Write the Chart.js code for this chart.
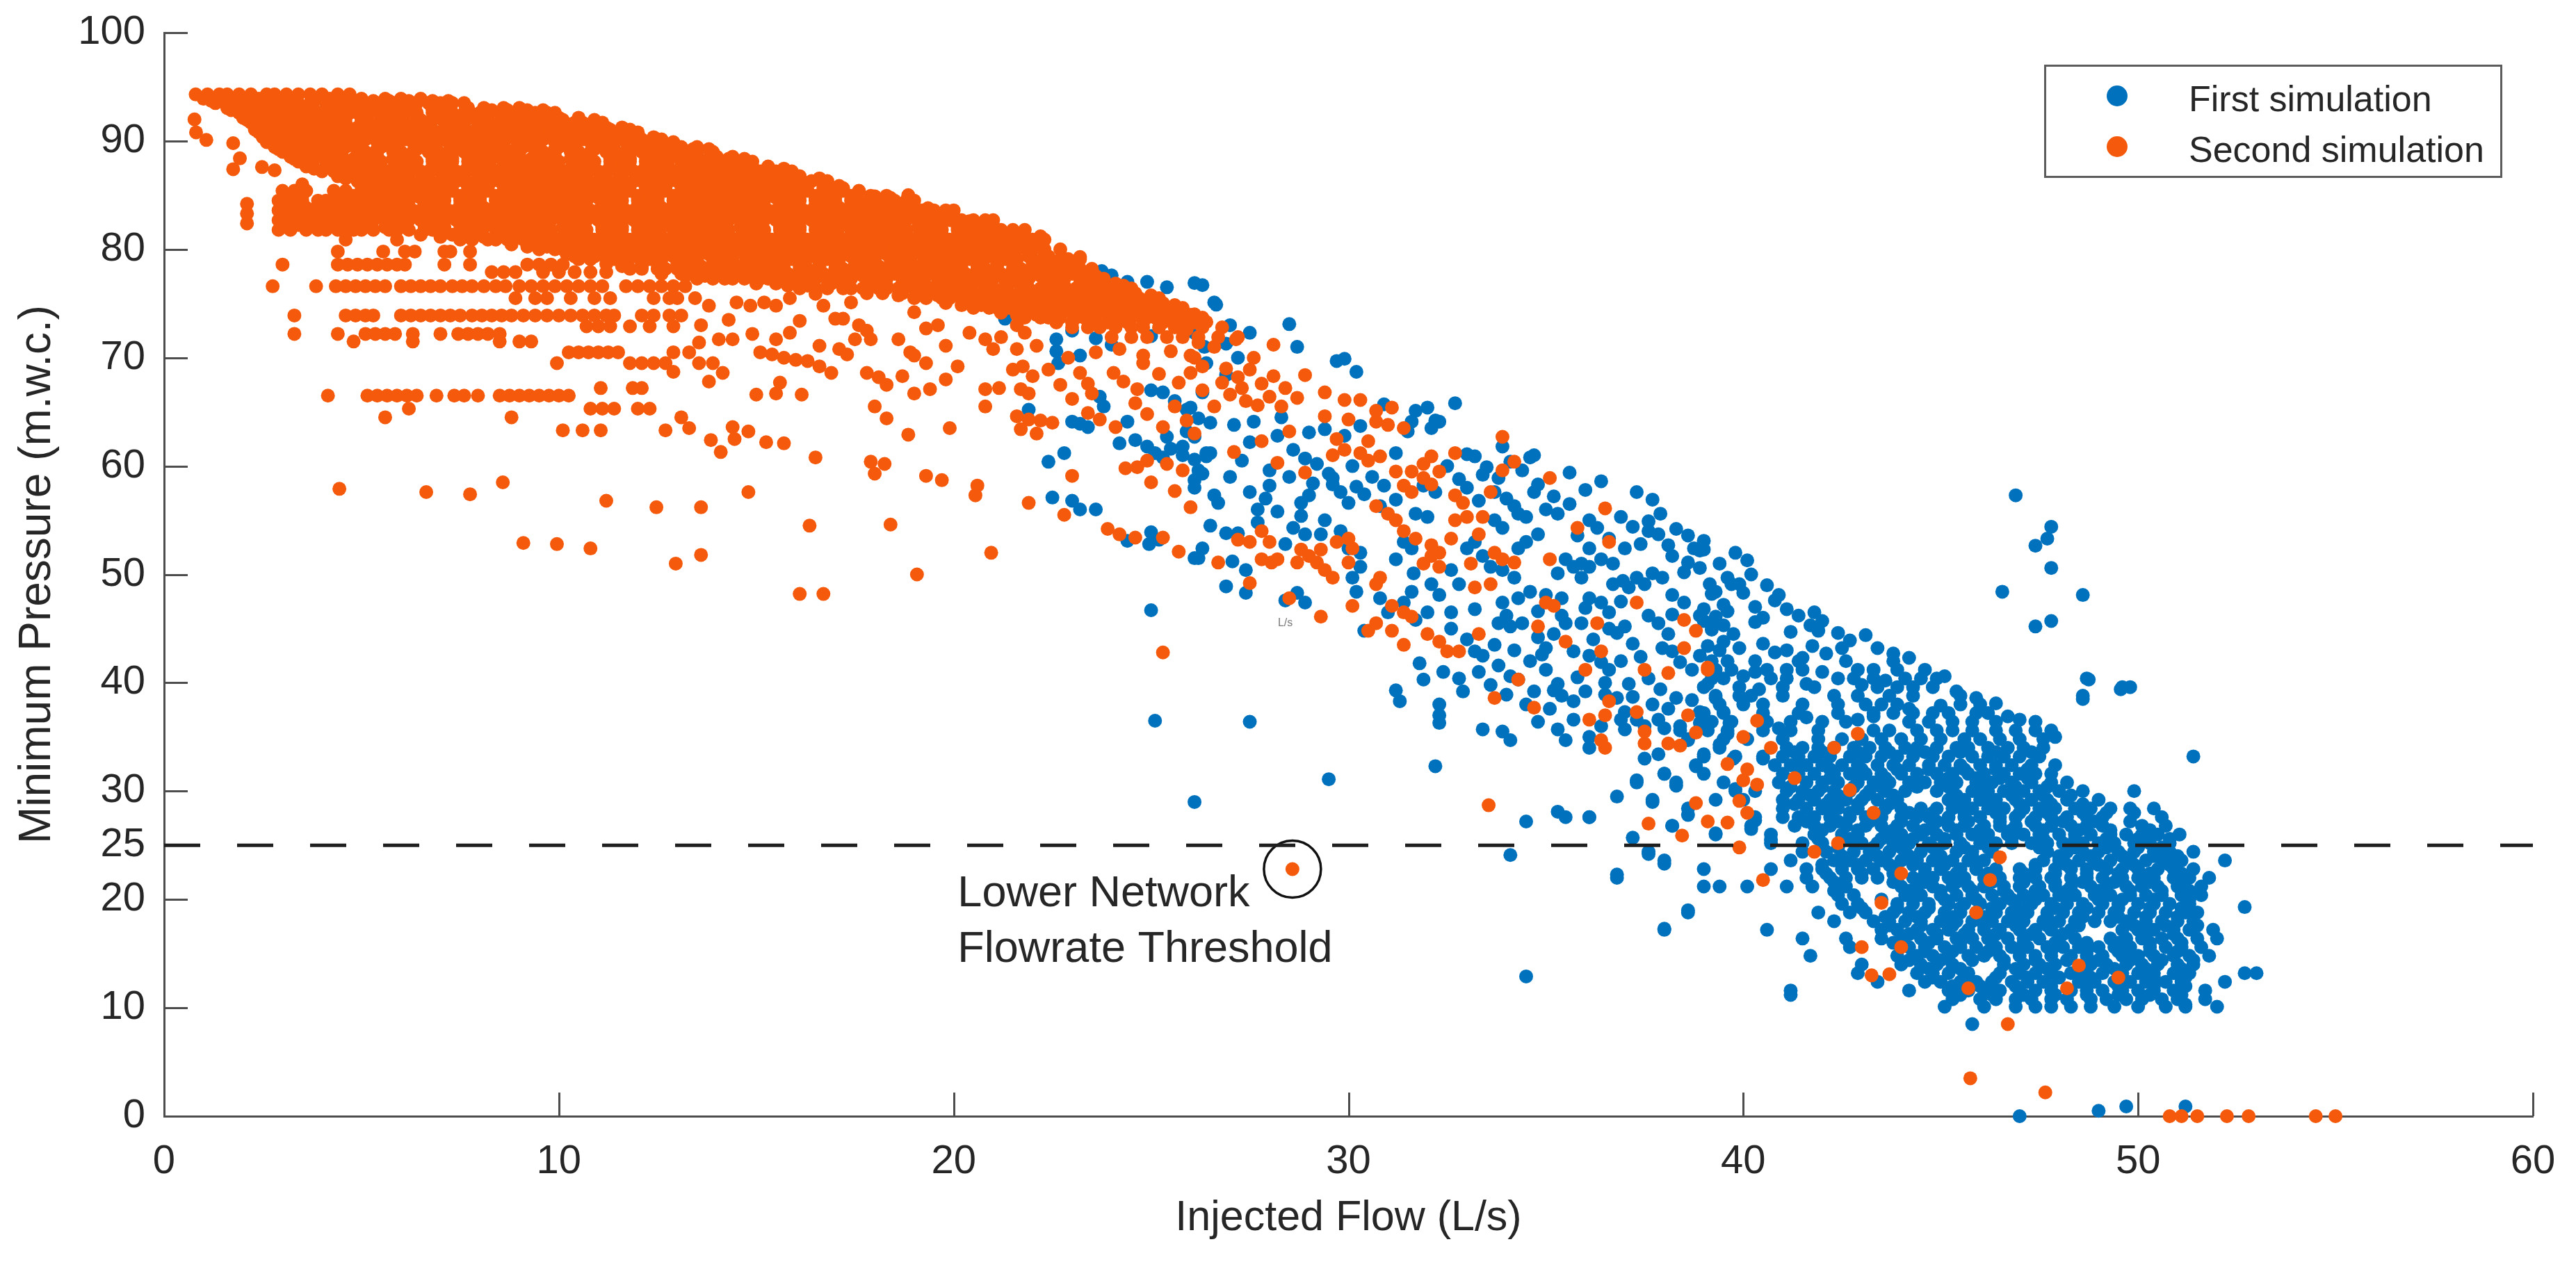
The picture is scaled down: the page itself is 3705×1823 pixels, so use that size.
<!DOCTYPE html>
<html>
<head>
<meta charset="utf-8">
<title>Minimum pressure vs injected flow</title>
<script src="https://cdn.jsdelivr.net/npm/chart.js@4.4.1/dist/chart.umd.min.js"></script>
<style>
  html, body { margin: 0; padding: 0; background: #ffffff; }
  #chartBox { width: 3705px; height: 1823px; }
</style>
</head>
<body>
<div id="chartBox"><canvas id="pressureChart" width="3705" height="1823"></canvas></div>
<script>
// Axis ticks
const xTicks = [0, 10, 20, 30, 40, 50, 60];
const yTicks = [0, 10, 20, 25, 30, 40, 50, 60, 70, 80, 90, 100];

const seriesLabels = ['First simulation', 'Second simulation'];
const thresholdPressure = 25;
const markedPoint = [28.58, 22.8];
const noteLines = ['Lower Network', 'Flowrate Threshold'];

// Second simulation, dense upper band: [pressure, flow, flow, ...]
const secondBandRows = [
  [94.3, 0.8,1.1,1.4,1.6,1.9,2.2,2.6,2.8,3.1,3.4,3.7,4.0,4.4,4.7],
  [93.5, 1.3,1.6,1.9,2.3,2.5,2.8,3.2,3.4,3.7,4.1,4.3,4.6,4.9,5.3,5.5,5.8,6.2,6.4,6.7,7.0,7.3,7.6],
  [92.6, 1.9,2.2,2.5,2.8,3.1,3.5,3.7,4.0,4.3,4.7,4.9,5.2,5.6,5.8,6.1,6.4,6.8,7.0,7.3,7.6,8.0,8.2,8.5,8.9,9.1,9.4,9.7,9.9],
  [91.7, 2.2,2.5,2.9,3.1,3.4,3.8,4.0,4.3,4.6,5.0,5.2,5.5,5.9,6.1,6.4,6.7,7.1,7.3,7.6,8.0,8.2,8.5,8.8,9.2,9.4,9.7,10.0,10.4,10.6,10.9,11.1],
  [90.8, 2.4,2.8,3.0,3.3,3.7,3.9,4.2,4.6,4.8,5.1,5.5,5.7,6.0,6.4,6.6,6.9,7.3,7.5,7.8,8.2,8.4,8.7,9.1,9.3,9.6,10.0,10.2,10.5,10.9,11.1,11.4,11.8,12.0],
  [89.9, 2.6,2.9,3.3,3.5,3.8,4.2,4.4,4.7,5.0,5.4,5.6,5.9,6.3,6.5,6.8,7.2,7.4,7.7,8.1,8.3,8.6,9.0,9.2,9.5,9.9,10.1,10.4,10.8,11.0,11.3,11.7,11.9,12.2,12.6,12.9],
  [89.0, 3.0,3.3,3.6,4.0,4.2,4.5,4.9,5.1,5.4,5.8,6.0,6.3,6.7,6.9,7.2,7.6,7.8,8.1,8.5,8.7,9.0,9.4,9.6,9.9,10.3,10.5,10.8,11.2,11.4,11.7,12.1,12.3,12.6,13.0,13.2,13.5,13.9],
  [88.1, 3.4,3.7,4.1,4.3,4.6,5.0,5.2,5.5,5.9,6.1,6.4,6.8,7.0,7.3,7.7,7.9,8.2,8.6,8.8,9.1,9.5,9.7,10.0,10.4,10.6,10.9,11.3,11.5,11.8,12.2,12.4,12.7,13.1,13.3,13.6,14.0,14.2,14.6,14.9],
  [87.2, 4.0,4.3,4.7,4.9,5.2,5.6,5.8,6.1,6.5,6.7,7.0,7.4,7.6,7.9,8.3,8.5,8.8,9.2,9.4,9.7,10.1,10.3,10.6,11.0,11.2,11.5,11.9,12.1,12.4,12.8,13.0,13.3,13.7,13.9,14.2,14.6,14.8,15.1,15.5,15.9],
  [86.3, 4.9,5.2,5.6,5.8,6.1,6.5,6.7,7.0,7.4,7.6,7.9,8.3,8.5,8.8,9.2,9.4,9.7,10.1,10.3,10.6,11.0,11.2,11.5,11.9,12.1,12.4,12.8,13.0,13.3,13.7,13.9,14.2,14.6,14.8,15.1,15.5,15.7,16.0,16.4,16.8],
  [85.4, 3.0,3.3,3.6,4.3,4.6,5.0,5.2,5.5,5.9,6.1,6.4,6.8,7.0,7.3,7.7,7.9,8.2,8.6,8.8,9.1,9.5,9.7,10.0,10.4,10.6,10.9,11.3,11.5,11.8,12.2,12.4,12.7,13.1,13.3,13.6,14.0,14.2,14.5,14.9,15.1,15.4,15.8,16.0,16.3,16.7,16.9,17.2,17.6],
  [84.5, 2.9,3.2,3.5,3.9,4.1,4.4,4.8,5.0,5.3,5.7,5.9,6.2,6.6,6.8,7.1,7.5,7.7,8.0,8.4,8.6,8.9,9.3,9.5,9.8,10.2,10.4,10.7,11.1,11.3,11.6,12.0,12.2,12.5,12.9,13.1,13.4,13.8,14.0,14.3,14.7,14.9,15.2,15.6,15.8,16.1,16.5,16.7,17.0,17.4,17.6,17.9,18.2,18.5,18.8,19.0],
  [83.6, 2.9,3.2,3.6,3.8,4.1,4.5,4.7,5.0,5.4,5.6,5.9,6.3,6.5,6.8,7.2,7.4,7.7,8.1,8.3,8.6,9.0,9.2,9.5,9.9,10.1,10.4,10.8,11.0,11.3,11.7,11.9,12.2,12.6,12.8,13.1,13.5,13.7,14.0,14.4,14.6,14.9,15.3,15.5,15.8,16.2,16.4,16.7,17.1,17.3,17.6,18.0,18.2,18.5,18.9,19.2,19.5,19.8,20.0],
  [82.7, 2.9,3.3,3.5,3.8,4.2,4.4,4.7,5.1,5.3,5.6,6.0,6.2,6.5,6.9,7.1,7.4,7.8,8.0,8.3,8.7,8.9,9.2,9.6,9.8,10.1,10.5,10.7,11.0,11.4,11.6,11.9,12.3,12.5,12.8,13.2,13.4,13.7,14.1,14.3,14.6,15.0,15.2,15.5,15.9,16.1,16.4,16.8,17.0,17.3,17.7,17.9,18.2,18.6,18.8,19.1,19.5,19.9,20.2,20.5,20.8,21.0],
  [81.8, 2.9,3.2,3.6,3.9,4.1,4.4,4.8,5.0,5.3,5.7,5.9,6.2,6.6,6.8,7.1,7.5,7.7,8.0,8.4,8.6,8.9,9.3,9.5,9.8,10.2,10.4,10.7,11.1,11.3,11.6,12.0,12.2,12.5,12.9,13.1,13.4,13.8,14.0,14.3,14.7,14.9,15.2,15.6,15.8,16.1,16.5,16.7,17.0,17.4,17.6,17.9,18.3,18.5,18.8,19.2,19.4,19.7,20.1,20.3,20.6,20.9,21.2,21.5,21.8],
  [80.9, 4.6,5.9,7.5,7.8,8.2,8.4,8.7,9.1,9.3,9.6,10.0,10.2,10.5,10.9,11.1,11.4,11.8,12.0,12.3,12.7,12.9,13.2,13.6,13.8,14.1,14.5,14.7,15.0,15.4,15.6,15.9,16.3,16.5,16.8,17.2,17.4,17.7,18.1,18.3,18.6,19.0,19.2,19.5,19.9,20.1,20.4,20.8,21.1,21.4,21.7,22.0,22.3],
  [80.0, 9.5,9.9,10.1,10.4,10.8,11.0,11.3,11.7,11.9,12.2,12.6,12.8,13.1,13.5,13.7,14.0,14.4,14.6,14.9,15.3,15.5,15.8,16.2,16.4,16.7,17.1,17.3,17.6,18.0,18.2,18.5,18.9,19.1,19.4,19.8,20.0,20.3,20.7,20.9,21.2,21.6,22.0,22.3,22.7],
  [79.1, 10.5,10.8,11.2,11.4,11.7,12.1,12.3,12.6,13.0,13.2,13.5,13.9,14.1,14.4,14.8,15.0,15.3,15.7,15.9,16.2,16.6,16.8,17.1,17.5,17.7,18.0,18.4,18.6,18.9,19.3,19.5,19.8,20.2,20.4,20.7,21.1,21.3,21.6,22.0,22.3,22.7,22.9,23.2],
  [78.2, 11.8,12.1,12.5,12.7,13.0,13.4,13.6,13.9,14.3,14.5,14.8,15.2,15.4,15.7,16.1,16.3,16.6,17.0,17.2,17.5,17.9,18.1,18.4,18.8,19.0,19.3,19.7,19.9,20.2,20.6,20.8,21.1,21.5,21.7,22.0,22.4,22.6,22.9,23.2,23.5],
  [77.3, 13.5,13.9,14.2,14.4,14.7,15.1,15.3,15.6,16.0,16.2,16.5,16.9,17.1,17.4,17.8,18.0,18.3,18.7,18.9,19.2,19.6,19.8,20.1,20.5,20.7,21.0,21.4,21.6,21.9,22.3,22.5,22.8,23.2,23.4,23.8],
  [76.4, 16.5,16.8,17.2,17.4,17.7,18.1,18.3,18.6,19.0,19.2,19.5,19.9,20.1,20.4,20.8,21.0,21.3,21.7,21.9,22.2,22.6,22.8,23.1,23.5,23.7,24.0,24.3,24.5],
  [75.5, 19.0,19.3,19.7,19.9,20.2,20.6,20.8,21.1,21.5,21.7,22.0,22.4,22.6,22.9,23.3,23.5,23.8,24.2,24.4,24.7,25.0,25.2],
  [74.6, 20.5,20.9,21.1,21.4,21.8,22.0,22.3,22.7,22.9,23.2,23.6,23.8,24.1,24.5,24.7,25.0,25.4,25.8],
  [73.7, 21.8,22.2,22.4,22.7,23.1,23.3,23.6,24.0,24.2,24.5,24.9,25.1,25.4,25.8,26.0,26.3],
  [72.8, 23.0,23.4,23.7,24.1,24.5,24.8,25.2,25.6,25.9,26.3,26.8],
  [71.9, 24.0,24.5,24.9,25.4,25.8,26.2,26.7,27.2]
];

// Second simulation, further rows of the band lying between the ones above
const secondBandInner = [
  [93.9, 1.0,1.5,2.0,2.4,2.9,3.3,3.8,4.2,4.6,5.0,5.6,6.0,6.5],
  [93.05, 1.6,2.0,2.4,2.9,3.3,3.6,4.1,4.5,5.0,5.4,5.9,6.3,6.8,7.2,7.7,8.1,8.6,9.0],
  [92.15, 2.0,2.4,2.9,3.3,3.8,4.2,4.6,5.1,5.5,6.0,6.4,6.9,7.3,7.8,8.2,8.7,9.1,9.6,10.0,10.5],
  [91.25, 2.3,2.7,3.2,3.6,4.1,4.5,4.9,5.4,5.8,6.3,6.7,7.2,7.6,8.1,8.5,9.0,9.4,9.9,10.3,10.8,11.2,11.6],
  [90.35, 2.5,3.0,3.4,3.9,4.3,4.8,5.2,5.7,6.1,6.6,7.0,7.5,7.9,8.4,8.8,9.3,9.7,10.2,10.6,11.1,11.5,12.0,12.4],
  [89.45, 2.8,3.2,3.7,4.1,4.6,5.0,5.5,5.9,6.4,6.8,7.3,7.7,8.2,8.6,9.1,9.5,10.0,10.4,10.9,11.3,11.8,12.2,12.7,13.1,13.5],
  [88.55, 3.2,3.6,4.1,4.5,5.0,5.4,5.9,6.3,6.8,7.2,7.7,8.1,8.6,9.0,9.5,9.9,10.4,10.8,11.3,11.7,12.2,12.6,13.1,13.5,14.0,14.4],
  [87.65, 3.6,4.1,4.5,5.0,5.4,5.9,6.3,6.8,7.2,7.7,8.1,8.6,9.0,9.5,9.9,10.4,10.8,11.3,11.7,12.2,12.6,13.1,13.5,14.0,14.4,14.9,15.3],
  [86.75, 4.4,4.9,5.3,5.8,6.2,6.7,7.1,7.6,8.0,8.5,8.9,9.4,9.8,10.3,10.7,11.2,11.6,12.1,12.5,13.0,13.4,13.9,14.3,14.8,15.2,15.7,16.1],
  [85.85, 5.0,5.4,5.9,6.3,6.8,7.2,7.7,8.1,8.6,9.0,9.5,9.9,10.4,10.8,11.3,11.7,12.2,12.6,13.1,13.5,14.0,14.4,14.9,15.3,15.8,16.2,16.7,17.1],
  [84.95, 3.1,3.5,4.4,4.8,5.3,5.7,6.2,6.6,7.1,7.5,8.0,8.4,8.9,9.3,9.8,10.2,10.7,11.1,11.6,12.0,12.5,12.9,13.4,13.8,14.3,14.7,15.2,15.6,16.1,16.5,17.0,17.4,17.9,18.3],
  [84.05, 3.0,3.4,3.9,4.3,4.8,5.2,5.7,6.1,6.6,7.0,7.5,7.9,8.4,8.8,9.3,9.7,10.2,10.6,11.1,11.5,12.0,12.4,12.9,13.3,13.8,14.2,14.7,15.1,15.6,16.0,16.5,16.9,17.4,17.8,18.3,18.7],
  [83.15, 3.1,3.5,4.0,4.4,4.9,5.3,5.8,6.2,6.7,7.1,7.6,8.0,8.5,8.9,9.4,9.8,10.3,10.7,11.2,11.6,12.1,12.5,13.0,13.4,13.9,14.3,14.8,15.2,15.7,16.1,16.6,17.0,17.5,17.9,18.4,18.8,19.3,19.7],
  [82.25, 3.0,3.4,3.9,4.3,4.8,5.2,5.7,6.1,6.6,7.0,7.5,7.9,8.4,8.8,9.3,9.7,10.2,10.6,11.1,11.5,12.0,12.4,12.9,13.3,13.8,14.2,14.7,15.1,15.6,16.0,16.5,16.9,17.4,17.8,18.3,18.7,19.2,19.6,20.1,20.5],
  [81.35, 6.5,7.3,8.0,8.5,8.9,9.4,9.8,10.3,10.7,11.2,11.6,12.1,12.5,13.0,13.4,13.9,14.3,14.8,15.2,15.7,16.1,16.6,17.0,17.5,17.9,18.4,18.8,19.3,19.7,20.2,20.6,21.1,21.5],
  [80.45, 8.8,9.3,9.7,10.2,10.6,11.1,11.5,12.0,12.4,12.9,13.3,13.8,14.2,14.7,15.1,15.6,16.0,16.5,16.9,17.4,17.8,18.3,18.7,19.2,19.6,20.1,20.5,21.0,21.4,21.9],
  [79.55, 10.2,10.6,11.1,11.5,12.0,12.4,12.9,13.3,13.8,14.2,14.7,15.1,15.6,16.0,16.5,16.9,17.4,17.8,18.3,18.7,19.2,19.6,20.1,20.5,21.0,21.4,21.9,22.3],
  [78.65, 11.2,11.6,12.1,12.5,13.0,13.4,13.9,14.3,14.8,15.2,15.7,16.1,16.6,17.0,17.5,17.9,18.4,18.8,19.3,19.7,20.2,20.6,21.1,21.5,22.0,22.4,22.9],
  [77.75, 12.6,13.1,13.5,14.0,14.4,14.9,15.3,15.8,16.2,16.7,17.1,17.6,18.0,18.5,18.9,19.4,19.8,20.3,20.7,21.2,21.6,22.1,22.5,23.0,23.4],
  [76.85, 15.0,15.5,16.0,16.4,16.9,17.3,17.8,18.2,18.7,19.1,19.6,20.0,20.5,20.9,21.4,21.8,22.3,22.7,23.2,23.6,24.1],
  [75.95, 17.8,18.2,18.7,19.1,19.6,20.0,20.5,20.9,21.4,21.8,22.3,22.7,23.2,23.6,24.1,24.6],
  [75.05, 19.8,20.3,20.7,21.2,21.6,22.1,22.5,23.0,23.4,23.9,24.3,24.8,25.3],
  [74.15, 21.2,21.6,22.1,22.5,23.0,23.4,23.9,24.3,24.8,25.2,25.7],
  [73.25, 22.6,23.0,23.5,23.9,24.4,24.8,25.3,25.7,26.1]
];

// Second simulation, third set of rows filling the band
const secondBandFill = [
  [93.7, 1.2,1.7,2.3,2.7,3.2,3.8,4.2,4.7,5.3,5.7,6.2,6.8,7.2],
  [92.85, 1.7,2.3,2.7,3.2,3.8,4.2,4.7,5.3,5.7,6.2,6.8,7.2,7.7,8.3,8.7,9.2,9.6],
  [91.95, 2.1,2.6,3.0,3.5,4.1,4.5,5.0,5.6,6.0,6.5,7.1,7.5,8.0,8.6,9.0,9.5,10.1,10.5,10.9],
  [91.05, 2.3,2.8,3.4,3.8,4.3,4.9,5.3,5.8,6.4,6.8,7.3,7.9,8.3,8.8,9.4,9.8,10.3,10.9,11.3,11.8],
  [90.15, 2.6,3.1,3.6,4.1,4.6,5.1,5.6,6.1,6.6,7.1,7.6,8.1,8.6,9.1,9.6,10.1,10.6,11.1,11.6,12.1,12.6],
  [89.25, 2.9,3.4,3.9,4.4,4.9,5.4,5.9,6.4,6.9,7.4,7.9,8.4,8.9,9.4,9.9,10.4,10.9,11.4,11.9,12.4,12.9,13.4,13.8],
  [88.35, 3.3,3.8,4.3,4.8,5.3,5.8,6.3,6.8,7.3,7.8,8.3,8.8,9.3,9.8,10.3,10.8,11.3,11.8,12.3,12.8,13.3,13.8,14.3,14.7],
  [87.45, 3.8,4.3,4.8,5.3,5.8,6.3,6.8,7.3,7.8,8.3,8.8,9.3,9.8,10.3,10.8,11.3,11.8,12.3,12.8,13.3,13.8,14.3,14.8,15.3,15.7],
  [86.55, 4.6,5.1,5.6,6.1,6.6,7.1,7.6,8.1,8.6,9.1,9.6,10.1,10.6,11.1,11.6,12.1,12.6,13.1,13.6,14.1,14.6,15.1,15.6,16.1,16.6],
  [85.65, 5.2,5.7,6.2,6.7,7.2,7.7,8.2,8.7,9.2,9.7,10.2,10.7,11.2,11.7,12.2,12.7,13.2,13.7,14.2,14.7,15.2,15.7,16.2,16.7,17.2],
  [84.75, 3.2,4.5,5.0,5.5,6.0,6.5,7.0,7.5,8.0,8.5,9.0,9.5,10.0,10.5,11.0,11.5,12.0,12.5,13.0,13.5,14.0,14.5,15.0,15.5,16.0,16.5,17.0,17.5,18.0,18.4],
  [83.85, 3.1,3.6,4.1,4.6,5.1,5.6,6.1,6.6,7.1,7.6,8.1,8.6,9.1,9.6,10.1,10.6,11.1,11.6,12.1,12.6,13.1,13.6,14.1,14.6,15.1,15.6,16.1,16.6,17.1,17.6,18.1,18.6,19.0],
  [82.95, 3.2,3.7,4.2,4.7,5.2,5.7,6.2,6.7,7.2,7.7,8.2,8.7,9.2,9.7,10.2,10.7,11.2,11.7,12.2,12.7,13.2,13.7,14.2,14.7,15.2,15.7,16.2,16.7,17.2,17.7,18.2,18.7,19.2,19.7],
  [82.05, 3.1,3.6,4.1,4.6,5.1,5.6,6.1,6.6,7.1,7.6,8.1,8.6,9.1,9.6,10.1,10.6,11.1,11.6,12.1,12.6,13.1,13.6,14.1,14.6,15.1,15.6,16.1,16.6,17.1,17.6,18.1,18.6,19.1,19.6,20.1,20.6,21.0],
  [81.15, 7.0,7.6,8.1,8.6,9.1,9.6,10.1,10.6,11.1,11.6,12.1,12.6,13.1,13.6,14.1,14.6,15.1,15.6,16.1,16.6,17.1,17.6,18.1,18.6,19.1,19.6,20.1,20.6,21.1,21.6],
  [80.25, 9.2,9.7,10.2,10.7,11.2,11.7,12.2,12.7,13.2,13.7,14.2,14.7,15.2,15.7,16.2,16.7,17.2,17.7,18.2,18.7,19.2,19.7,20.2,20.7,21.2,21.7,22.1],
  [79.35, 10.4,10.9,11.4,11.9,12.4,12.9,13.4,13.9,14.4,14.9,15.4,15.9,16.4,16.9,17.4,17.9,18.4,18.9,19.4,19.9,20.4,20.9,21.4,21.9,22.4],
  [78.45, 11.6,12.1,12.6,13.1,13.6,14.1,14.6,15.1,15.6,16.1,16.6,17.1,17.6,18.1,18.6,19.1,19.6,20.1,20.6,21.1,21.6,22.1,22.6,23.0],
  [77.55, 13.2,13.7,14.2,14.7,15.2,15.7,16.2,16.7,17.2,17.7,18.2,18.7,19.2,19.7,20.2,20.7,21.2,21.7,22.2,22.7,23.2,23.6],
  [76.65, 15.8,16.3,16.8,17.3,17.8,18.3,18.8,19.3,19.8,20.3,20.8,21.3,21.8,22.3,22.8,23.3,23.8,24.3],
  [75.75, 18.6,19.1,19.6,20.1,20.6,21.1,21.6,22.1,22.6,23.1,23.6,24.1,24.6,25.0],
  [74.85, 20.2,20.7,21.2,21.7,22.2,22.7,23.2,23.7,24.2,24.7,25.2,25.6],
  [73.95, 21.6,22.1,22.6,23.1,23.6,24.1,24.6,25.1,25.6,26.0]
];

// Second simulation, horizontal streaks below the band: [pressure, flow, ...]
const secondStreakRows = [
  [79.8, 4.4,5.55,6.1,6.35,7.1,7.25,7.75],
  [78.6, 3.0,4.4,4.65,4.9,5.15,5.4,5.65,5.9,6.1,7.1,7.75,9.2,9.5,9.8,10.1],
  [77.9, 8.3,8.6,8.9,9.6,10.0,10.4,10.8,11.2],
  [76.6, 2.75,3.85,4.35,4.6,4.85,5.1,5.35,5.6,6.0,6.25,6.5,6.75,7.0,7.3,7.55,7.8,8.1,8.4,8.65,9.0,9.3,9.6,9.9,10.2,10.5,10.8,11.1,11.7,12.0,12.3,12.6,12.9,13.2],
  [75.5, 8.9,9.4,9.7,10.3,10.9,11.3,12.4,12.8,13.0],
  [73.9, 3.3,4.6,4.85,5.1,5.3,6.0,6.25,6.5,6.75,7.0,7.25,7.5,7.8,8.05,8.3,8.55,8.8,9.1,9.4,9.7,10.0,10.3,10.6,10.9,11.2,11.4,12.1,12.4,12.8,13.1],
  [72.9, 10.7,11.0,11.3,11.8,12.3,12.9],
  [72.2, 3.3,4.4,5.1,5.35,5.6,5.85,6.3,7.0,7.45,7.7,7.95,8.2,8.5],
  [71.5, 4.8,6.3,8.5,9.0,9.3],
  [70.5, 10.25,10.5,10.75,11.0,11.25,11.5,12.9,13.3],
  [69.5, 9.95,11.8,12.1,12.4,12.7],
  [68.7, 12.9],
  [67.2, 11.06,11.87,12.1],
  [66.5, 4.15,5.15,5.4,5.65,5.9,6.15,6.4,6.9,7.35,7.6,7.95,8.5,8.75,9.0,9.25,9.5,9.75,10.0,10.25],
  [65.3, 6.2,10.8,11.1,11.4,12.0,12.3],
  [64.5, 5.6,8.8,13.1],
  [63.3, 10.1,10.6,11.06,12.7]
];

// Second simulation, scattered points: x, y pairs
const secondScatter = [
  0.77,92.0, 0.81,90.8, 1.07,90.1, 1.75,89.8, 1.92,88.4, 1.75,87.4, 2.48,87.6, 2.8,87.3, 3.5,86.0,
  2.1,84.2, 2.1,83.3, 2.1,82.4,
  18.0,84.9, 18.85,85.0, 19.35,83.8, 20.4,82.6, 20.9,82.3, 22.2,81.2, 23.2,79.3,
  4.44,57.9, 6.64,57.6, 7.75,57.4, 8.58,58.5, 11.2,56.8, 12.47,56.2, 9.1,52.9, 9.95,52.8, 10.8,52.4, 12.96,51.0,
  13.45,75.5, 13.8,74.8, 13.6,73.0, 13.55,71.4, 14.05,71.7, 13.9,69.5, 13.55,69.5, 13.8,67.8, 14.15,68.6,
  14.5,75.1, 14.85,74.8, 15.2,75.1, 15.5,74.8, 15.85,75.5, 16.1,76.4,
  14.3,73.5, 14.9,72.2, 14.4,71.7,
  15.1,70.5, 15.4,70.3, 15.7,70.0, 16.0,69.8, 16.3,69.7,
  15.5,71.7, 15.85,72.3, 16.1,73.4,
  16.6,71.1, 16.6,69.2, 16.9,68.6, 17.1,70.8, 17.3,70.3,
  16.5,75.9, 16.7,74.8, 17.0,73.6, 17.2,73.6, 17.4,75.1,
  17.6,73.0, 17.8,72.5, 17.5,71.7, 17.9,71.7,
  17.8,68.6, 18.1,68.2, 18.3,67.5,
  18.6,71.7, 18.9,70.5, 19.3,69.5, 19.0,70.2,
  18.7,68.3, 19.0,66.7, 19.4,67.1, 19.8,68.0, 20.1,69.2,
  19.0,74.2, 19.3,72.7, 19.6,73.0, 19.8,71.1,
  20.4,72.3, 20.8,71.7, 21.0,70.8, 21.2,71.9, 21.6,73.0, 21.6,70.8, 21.8,72.3, 22.1,71.1,
  21.5,68.9, 21.75,69.2, 22.0,68.3, 22.4,68.9,
  20.8,67.1, 21.15,67.2, 20.8,65.5, 21.7,67.1, 21.9,66.7,
  21.6,64.6, 21.9,64.3, 22.2,64.2, 22.5,64.0, 21.7,63.4, 22.1,63.0,
  13.3,63.5, 13.85,62.4, 14.1,61.3, 14.4,63.6, 14.45,62.5, 14.8,63.2, 15.25,62.2, 15.7,62.1,
  15.0,66.6, 15.5,66.7, 15.6,67.7, 16.15,66.6, 16.5,60.8, 18.0,65.5, 18.3,64.4, 18.85,62.9, 19.9,63.5,
  17.9,60.4, 18.25,60.2, 18.0,59.3, 19.3,59.1, 19.7,58.7, 20.6,58.2, 20.55,57.3,
  14.8,57.6, 13.6,56.2, 16.35,54.5, 18.4,54.6, 13.6,51.8, 20.95,52.0, 19.07,50.0, 16.1,48.2, 16.7,48.2,
  21.9,56.6, 22.8,55.5, 23.0,59.1, 23.9,54.2, 24.2,53.7, 24.6,53.4, 25.3,53.4, 25.7,52.1, 26.0,56.2,
  23.2,68.6, 23.4,67.6, 23.5,66.7, 23.4,64.9, 23.7,64.3, 24.1,63.6, 24.6,65.8, 24.9,64.8, 25.3,63.6,
  25.6,65.5, 25.9,64.2, 26.1,63.0, 24.05,68.6, 24.3,67.8, 24.65,67.1, 24.8,69.5, 25.2,68.5, 25.7,67.7,
  26.0,68.6, 26.3,67.0, 26.6,65.5, 24.9,60.5, 25.4,60.2, 25.8,59.6, 24.65,59.9, 25.0,58.5, 25.6,57.7, 24.35,59.8,
  22.9,70.0, 23.6,70.5, 24.2,70.8, 24.8,70.2, 25.5,70.6, 26.1,70.0, 26.6,71.0, 23.0,66.2, 22.7,67.5,
  26.1,74.0, 25.9,72.6, 26.2,71.4, 26.0,70.2, 26.3,69.2, 26.4,73.3, 27.15,71.7, 27.6,70.0, 28.1,71.2,
  26.9,69.0, 27.2,68.2, 27.5,68.9, 27.8,67.6, 28.1,68.3, 28.4,67.2, 28.7,66.3, 27.0,66.6, 27.4,66.0,
  27.7,65.6, 28.0,66.4, 28.3,65.5, 26.8,67.7, 27.3,67.2,
  27.1,61.3, 27.8,62.3, 28.2,60.3, 28.9,59.4, 29.6,61.0, 30.5,62.3, 29.4,64.6, 30.0,64.3, 28.5,63.2,
  28.9,68.4, 29.4,66.8, 29.9,66.1, 30.3,66.1, 30.7,65.1, 31.1,65.4, 30.7,64.1, 31.0,63.8, 31.4,63.5,
  29.7,62.5, 29.9,61.5, 30.3,61.2, 30.5,60.5, 30.8,60.9,
  31.2,59.5, 31.6,59.5, 31.9,60.2, 32.1,60.9, 32.3,59.5, 31.4,58.2, 31.6,57.6, 31.9,58.9, 32.1,58.3,
  32.7,61.2, 33.9,62.7, 34.2,60.4, 33.9,59.6, 35.1,58.9, 33.6,57.6, 32.7,57.3, 32.9,56.6,
  30.7,56.3, 31.0,55.6, 31.2,55.0, 31.4,54.0, 31.7,53.3, 32.1,52.7, 32.3,52.0, 32.7,55.0, 33.0,55.3,
  33.3,53.7, 33.4,55.3, 32.6,53.3,
  30.0,53.3, 30.1,52.4, 30.0,51.1, 29.2,51.1, 29.4,50.4, 29.6,49.7, 29.7,53.0,
  27.2,53.2, 27.5,53.0, 27.8,54.0, 28.0,53.0, 27.8,51.4, 28.05,51.1, 28.2,51.4, 26.7,51.1, 27.5,49.2,
  28.8,52.3, 29.0,51.7, 28.7,51.1, 29.3,52.3, 28.5,47.8, 29.3,46.1,
  30.1,47.1, 30.7,49.1, 30.8,49.7, 30.7,45.5, 30.5,44.8,
  31.1,47.1, 31.4,46.5, 31.6,46.1, 31.1,44.8, 31.4,43.5, 32.0,44.5, 32.3,43.8, 32.5,42.9, 32.8,42.9,
  31.9,51.0, 32.1,51.7, 32.3,50.7, 33.1,51.0, 33.2,48.8, 33.3,44.5,
  33.7,52.0, 33.9,51.4, 34.2,51.1, 33.6,49.1,
  35.1,51.4, 35.8,54.3, 36.5,56.1, 36.6,53.0, 35.2,47.1, 34.8,45.2, 35.5,43.8, 36.0,41.2, 36.3,45.5, 36.4,42.9,
  35.0,47.4, 37.3,47.4, 37.5,41.2, 38.5,45.8, 38.8,44.8, 38.5,43.2, 39.1,41.2, 38.1,40.9,
  36.6,38.3, 36.5,37.0, 36.1,36.6, 37.3,37.3, 38.6,37.0, 38.8,35.4, 34.7,37.7, 33.7,38.6, 34.3,40.3,
  36.4,34.7, 36.5,34.0, 37.5,34.4, 38.1,34.4, 38.4,34.2, 37.5,35.5, 38.8,28.9,
  25.3,42.8, 33.55,28.7, 28.58,22.8,
  39.1,41.4, 40.35,36.5, 40.0,35.0, 40.7,34.0, 42.3,34.0, 42.9,35.3, 39.6,32.5, 40.1,32.0, 40.0,31.0,
  40.35,30.6, 41.3,31.2, 42.7,30.1, 43.3,28.0, 39.9,29.1, 40.1,28.0, 39.1,27.2, 39.6,27.1, 37.6,27.0, 38.45,25.9,
  39.9,24.8, 41.8,24.4, 42.4,25.2, 40.5,21.8, 44.0,22.4, 46.5,23.9, 46.25,21.8, 43.5,19.7, 45.9,18.8,
  43.0,15.6, 44.0,15.6, 43.25,13.0, 43.7,13.1, 45.7,11.8, 48.5,13.9, 48.2,11.8, 49.5,12.8, 46.7,8.5,
  45.75,3.5, 47.65,2.2, 50.8,0, 51.1,0, 51.5,0, 52.25,0, 52.8,0, 54.5,0, 55.0,0
];

// First simulation, upper diagonal band: x, y pairs
const firstUpper = [
  22.6,78.7, 23.2,78.0, 23.75,78.0, 24.0,77.6, 24.4,77.0, 24.9,77.0, 25.4,76.5, 26.1,76.9, 26.3,76.7, 26.6,75.1, 26.65,74.9,
  19.6,76.3, 21.3,73.6,
  22.6,71.7, 22.6,70.6, 22.65,69.5, 23.0,72.5, 23.2,70.2, 23.6,71.8, 24.0,71.2, 25.0,72.0, 25.6,73.5, 26.1,72.3,
  26.35,71.0, 26.4,69.5, 27.0,73.0, 27.5,72.3, 28.5,73.1, 28.7,71.0, 29.7,69.7, 29.9,69.9, 30.2,68.7,
  26.9,71.3, 27.2,70.0, 26.9,68.4,
  21.9,65.2, 23.0,64.1, 23.2,63.9, 23.4,63.6, 22.4,60.4, 22.8,61.2, 22.5,57.1, 23.0,56.8, 23.2,56.0, 23.6,56.0,
  24.2,62.1, 24.4,64.1, 23.7,66.4, 23.8,65.5, 24.6,62.4, 24.9,61.8, 25.1,61.2, 25.3,60.8, 25.5,61.6, 25.8,61.0,
  26.1,60.6, 26.4,60.9, 25.4,62.7, 25.8,61.8, 26.1,62.7, 26.4,61.2, 25.3,66.8, 25.6,66.0, 25.9,65.2, 26.2,64.4,
  26.5,64.0, 25.0,67.0,
  25.0,53.9, 25.2,53.2, 24.4,53.1, 24.95,52.8, 26.1,51.5, 26.3,52.4, 26.5,54.5, 26.3,59.3, 26.1,58.0, 25.0,46.7,
  26.3,66.8, 26.0,65.4, 25.9,63.2, 26.5,61.2, 26.2,59.6, 26.1,58.7,
  27.1,63.8, 27.5,62.2, 27.6,64.1, 27.5,57.6, 27.7,56.0, 26.6,57.3, 26.7,56.6, 28.2,62.8, 28.6,61.5, 28.3,64.5,
  27.0,59.0, 27.3,60.5, 28.5,59.0, 28.9,60.7, 29.9,62.8, 30.3,63.7, 30.2,58.1, 29.1,58.4, 27.9,57.0, 28.2,55.8, 27.7,54.8, 28.4,52.8,
  26.9,53.8, 27.2,53.8, 27.06,51.2, 27.4,50.4, 26.2,51.5, 26.9,48.9, 27.4,48.3,
  28.4,47.6, 28.7,48.3, 28.9,47.4, 28.0,58.2, 28.0,59.6, 28.8,56.6, 29.0,57.3, 28.8,55.4,
  29.2,60.2, 29.5,59.3, 29.6,58.9, 29.0,63.1, 29.4,63.4, 29.6,58.3, 29.8,57.6, 30.0,56.6,
  29.4,55.0, 29.3,53.7, 29.8,54.0, 30.0,52.4, 28.6,54.3, 28.9,53.7,
  30.3,52.0, 30.3,50.7, 30.1,49.7, 30.2,48.4, 31.2,51.4, 31.6,52.4, 31.4,53.0, 31.65,50.1, 31.7,55.6, 32.0,55.3,
  30.8,56.3, 31.2,56.9, 30.6,59.0, 30.9,58.2, 30.4,57.4, 32.5,60.0, 32.8,58.8, 30.1,60.0,
  31.5,63.2, 31.6,64.1, 31.7,65.1, 32.0,65.4, 32.1,63.5, 32.3,64.1, 31.2,61.2, 31.9,58.2, 32.2,57.6, 32.7,65.8,
  30.9,65.7, 32.2,64.2,
  33.2,60.9, 33.5,59.9, 33.8,58.9, 33.4,59.2, 33.7,57.6, 34.4,59.6, 34.7,57.6, 34.8,58.3, 34.7,61.0, 35.6,59.4,
  33.9,61.8, 34.1,60.4, 33.0,61.1, 34.6,60.8,
  34.2,56.3, 34.3,55.6, 34.5,55.3, 34.8,53.7, 34.5,53.0, 34.3,52.4, 33.7,55.0, 33.9,54.3, 33.2,53.0, 33.4,51.7, 33.0,52.4,
  33.6,50.7, 33.9,50.4, 34.2,49.7, 32.6,50.4, 32.8,49.1, 32.1,49.1, 32.3,48.1, 31.6,48.4, 31.4,47.4, 30.8,47.8,
  31.0,46.5, 32.0,46.5, 31.7,45.8, 32.6,46.5, 33.2,46.8, 33.2,42.9, 33.4,42.5, 33.7,43.5,
  33.8,45.5, 34.1,45.2, 34.4,45.5, 33.9,47.4, 34.3,47.8, 34.6,48.4, 35.0,48.1, 35.4,47.8,
  35.3,50.1, 35.5,51.4, 35.7,50.7, 35.9,49.7, 36.1,50.7, 35.3,55.6, 36.1,55.0, 36.3,54.3, 36.6,53.3, 36.1,52.4,
  35.9,51.0, 36.4,51.4,
  36.7,51.0, 36.95,49.4, 37.1,48.8, 37.3,49.7, 36.7,49.1, 37.7,56.9, 37.6,54.0, 37.85,53.7, 38.1,52.7, 37.0,52.4,
  37.7,50.1, 37.95,49.7, 37.5,49.1,
  38.2,51.7, 38.6,51.1, 38.75,52.4, 38.9,52.2, 38.2,48.1, 38.5,47.4, 39.3,48.4, 39.7,49.1,
  36.1,47.8, 36.4,47.4, 36.6,46.5, 35.5,45.5, 35.9,45.5, 34.8,44.2, 35.2,44.5, 35.0,43.2,
  35.7,42.9, 36.1,42.5, 36.4,41.9, 36.6,41.2, 34.1,40.6, 34.3,40.3, 35.0,41.2, 35.3,39.9, 35.2,39.3, 35.7,38.3,
  35.7,36.6, 35.3,35.7, 35.5,34.7, 36.1,34.0, 36.8,38.6, 37.0,37.3, 37.3,36.6, 37.0,35.7, 37.7,38.0, 37.85,36.6, 37.5,36.0,
  37.85,45.5, 38.1,44.5, 37.95,43.2, 38.2,42.9, 38.4,41.9, 38.7,41.2, 38.9,42.5, 39.2,45.2, 39.5,43.8, 39.75,44.5,
  39.1,39.9, 39.3,38.6, 38.9,37.3, 39.5,37.3, 39.65,36.3, 38.4,36.0, 38.6,34.7, 39.6,35.3, 39.4,34.3, 39.75,33.0,
  37.85,33.4, 37.5,33.0, 36.1,35.0,
  33.4,35.7, 33.9,35.5, 34.1,34.7, 32.3,38.0, 32.3,37.0, 32.3,36.3, 31.2,39.3, 31.3,38.3, 30.4,44.8,
  37.3,57.6, 37.6,54.9, 38.6,53.6, 39.0,53.1, 39.6,49.7, 40.2,50.0, 40.6,49.0, 41.4,46.2, 39.0,52.3,
  39.0,46.8, 39.0,45.7, 39.2,44.9, 39.5,45.3, 39.3,46.1, 39.15,49.1, 39.2,48.2, 39.9,49.1, 40.0,48.3, 40.9,48.1,
  41.2,44.7, 41.7,45.3, 41.9,44.8, 39.1,43.4, 39.4,43.0, 39.9,43.2, 41.1,43.0, 41.75,43.4, 42.1,42.7, 43.8,42.7, 40.3,45.6,
  33.0,58.0, 33.3,56.8, 34.0,57.0, 35.2,57.2, 35.6,56.5, 36.0,57.8, 36.4,58.6, 35.0,56.0, 35.8,53.6, 36.9,55.3,
  37.2,54.4, 37.4,52.8, 37.9,55.6, 38.3,54.2, 38.5,50.2, 38.9,50.6, 39.4,51.0, 39.8,52.0, 40.1,51.3, 39.5,47.2,
  40.3,47.0, 40.8,47.6, 41.1,46.8, 40.5,46.0, 41.8,46.5, 42.0,45.7, 42.4,44.6, 42.7,43.9, 43.1,44.4, 43.4,43.2,
  42.6,42.0, 44.2,42.3, 44.6,41.2, 45.1,40.6, 45.4,39.2, 45.9,38.6, 46.4,38.1, 46.7,36.9, 47.0,36.6, 47.9,35.0,
  36.2,44.0, 36.8,44.6, 37.2,43.6, 37.4,42.4, 36.9,42.0, 37.6,40.4, 37.1,39.9, 36.5,40.0, 35.8,40.5, 36.0,39.2,
  36.5,38.9, 37.9,39.4, 38.3,38.6, 38.1,37.6, 37.2,38.7,
  34.6,42.0, 34.2,43.0, 34.9,42.6, 33.8,41.6, 33.3,41.0, 32.8,40.4, 33.6,39.8, 34.7,39.2, 34.0,38.9, 34.5,38.0,
  35.1,37.6, 35.4,38.8, 34.8,36.4, 36.4,36.0, 36.9,36.6, 38.0,35.8, 38.9,36.3, 38.7,38.4, 39.9,38.8, 40.4,39.4,
  40.0,40.6, 40.3,41.0, 40.8,42.8, 40.5,43.6, 42.5,43.2, 41.5,42.3, 42.0,41.0, 41.6,39.9, 43.0,39.8, 43.6,40.2,
  44.2,37.6, 41.6,36.8, 40.9,35.8, 42.9,36.6, 43.3,36.9, 45.0,37.9,
  31.8,41.8, 32.4,41.0, 32.9,39.2, 31.9,40.3, 33.0,44.0, 32.6,45.0, 34.0,46.2, 34.8,46.6, 35.4,46.2, 36.0,46.9,
  36.9,47.5, 37.6,46.2, 38.2,46.3, 38.9,46.2, 39.6,46.6, 37.0,45.2, 36.6,45.0
];

// First simulation, dense lower cluster: [pressure, flow, flow, ...]
const firstCoreRows = [
  [42.0, 39.2,39.6,40.3,41.4,43.8],
  [41.2, 39.3,39.7,40.6,41.1,41.5,42.9,43.3,43.9],
  [40.4, 39.2,39.5,40.7,41.1,42.4,42.8,43.3,44.1,44.5,44.9,48.7],
  [39.6, 39.0,39.9,41.0,41.8,43.4,43.9,44.3,44.8,49.6,49.8],
  [38.8, 39.3,40.2,41.0,42.3,42.9,43.7,44.3,45.5,48.6],
  [38.0, 39.4,40.0,40.5,41.5,42.4,43.1,43.5,43.9,45.5,46.0],
  [37.2, 39.0,39.5,40.5,41.4,42.4,43.3,43.8,44.3,44.8,45.2,45.9,46.2],
  [36.4, 39.2,39.7,40.6,41.2,42.0,42.6,44.2,44.7,45.3,45.8,46.4,47.4],
  [35.6, 38.4,39.1,39.6,40.5,41.2,41.9,43.3,43.7,44.4,44.9,45.3,45.8,46.4,46.9,47.4,47.8],
  [34.8, 38.6,39.5,40.1,41.0,41.9,42.5,43.0,43.5,44.0,44.5,45.0,45.6,46.0,46.5,47.0,47.6],
  [34.0, 39.4,41.1,41.5,41.9,42.3,42.8,43.2,43.6,44.1,44.4,44.9,45.4,45.7,46.2,46.7,47.1,47.6],
  [33.2, 39.0,39.8,40.5,41.0,41.4,41.8,42.2,42.7,43.1,43.5,43.9,44.3,44.8,45.2,45.8,46.2,46.6,47.0,47.5],
  [32.4, 38.8,40.8,41.2,41.6,42.0,42.5,42.9,43.4,43.8,44.2,44.7,45.1,45.5,46.0,46.4,46.8,47.3,47.9],
  [31.6, 38.0,39.0,41.0,41.4,41.8,42.3,42.7,43.1,43.5,44.0,44.4,44.9,45.3,45.7,46.1,46.6,47.0,47.4,47.8],
  [30.8, 37.3,38.3,39.5,40.9,41.6,42.0,42.4,42.9,43.3,43.7,44.2,44.6,45.0,45.4,45.9,46.3,46.8,47.3,47.8,48.2],
  [30.0, 39.8,40.3,41.1,41.5,41.9,42.3,42.7,43.2,43.6,44.1,44.9,45.3,45.8,46.2,46.6,47.1,47.5,48.0,48.6,49.9],
  [29.2, 37.7,39.3,40.0,41.0,41.4,41.8,42.2,42.6,43.0,43.4,43.9,45.2,45.6,46.0,46.4,46.9,47.3,47.7,48.2,49.0],
  [28.4, 38.6,41.0,41.6,42.0,42.4,42.9,43.6,44.0,44.5,44.9,45.3,45.8,46.2,46.6,47.1,47.5,47.9,48.4,48.8,49.3,49.8,50.4],
  [27.6, 36.1,40.3,41.0,41.4,41.8,42.2,42.7,43.1,43.5,44.0,44.4,44.7,45.2,45.6,46.0,46.5,46.9,47.4,47.8,48.2,48.7,49.1,50.6],
  [26.8, 38.2,40.2,41.3,41.8,42.2,42.6,43.1,43.5,43.9,44.3,44.8,45.2,45.6,46.1,46.5,46.9,47.4,47.8,48.3,48.7,49.1,50.1,50.7],
  [26.0, 39.3,40.7,41.8,42.5,42.9,43.6,44.0,44.5,44.9,45.4,45.8,46.2,46.7,47.1,47.5,48.0,48.4,48.8,49.3,49.7,50.1,50.5,51.05],
  [25.2, 40.7,41.5,42.0,43.0,43.4,43.8,44.2,44.7,45.1,45.5,46.0,46.4,46.8,47.3,47.7,48.1,48.6,49.0,49.4,49.9,50.3,50.8],
  [24.4, 37.6,41.5,42.1,42.8,43.2,43.7,44.1,44.5,44.9,45.4,45.8,46.3,47.7,48.2,48.6,49.0,49.5,49.9,50.4,50.8,51.4],
  [23.6, 38.0,41.2,42.3,42.7,43.1,43.5,44.0,44.4,44.8,45.3,45.7,46.1,47.6,48.0,48.5,48.9,49.3,49.8,50.2,50.6,51.1,52.2],
  [22.8, 39.0,40.7,41.6,42.0,42.5,42.9,43.3,43.8,44.6,45.0,45.5,45.9,46.4,47.0,47.4,47.9,48.3,48.7,49.2,49.6,50.0,50.5,50.9,51.4],
  [22.0, 36.8,41.6,42.2,42.6,43.0,43.4,43.9,44.3,44.8,45.2,45.6,46.1,46.5,47.0,47.4,47.8,48.3,48.7,49.1,49.6,50.0,50.4,50.9,51.3,51.8],
  [21.2, 39.0,39.4,40.1,41.1,41.75,42.6,44.0,44.4,44.8,45.3,45.7,46.1,46.6,47.0,47.5,47.9,48.3,48.8,49.2,49.7,50.1,50.5,51.0,51.6],
  [20.4, 42.4,42.8,44.1,44.5,45.0,45.4,45.8,46.3,46.7,47.1,47.6,48.0,48.4,48.9,49.3,49.8,50.2,50.6,51.1,51.6],
  [19.6, 42.5,42.9,43.9,44.3,44.7,45.2,45.6,46.0,46.5,46.9,47.3,47.8,48.2,48.6,49.1,49.5,50.0,50.4,50.8,51.3],
  [18.8, 38.6,41.9,42.7,43.1,43.8,44.2,44.6,45.1,45.5,45.9,46.4,46.8,47.2,47.7,48.1,48.5,49.0,49.4,49.9,50.3,50.7,51.2,51.5],
  [18.0, 42.3,43.3,43.7,44.1,44.5,45.0,45.4,45.8,46.3,46.7,47.1,47.6,48.0,48.4,48.9,49.3,49.7,50.2,50.6,51.0,51.4],
  [17.2, 38.0,40.6,43.5,43.9,44.4,44.8,45.2,45.7,46.1,46.5,47.0,47.4,47.8,48.3,49.6,50.0,50.4,50.9,51.3,51.9],
  [16.4, 41.5,42.6,43.5,44.0,44.5,44.9,45.4,45.8,46.2,46.7,47.1,47.5,48.0,48.4,49.3,49.7,50.1,50.6,51.0,51.5,52.0],
  [15.6, 42.7,44.2,44.6,45.1,45.5,45.9,46.4,46.8,47.2,47.7,48.1,48.5,49.0,49.4,49.8,50.3,50.7,51.1,51.6],
  [14.8, 41.7,43.9,44.4,44.8,45.2,45.7,46.1,46.5,47.0,47.4,47.8,48.3,48.7,49.1,49.6,50.0,50.4,50.9,51.3,51.8],
  [14.0, 43.0,44.0,44.5,44.9,45.3,46.6,47.1,47.5,47.9,48.8,49.2,49.7,50.1,50.5,51.0,51.4],
  [13.2, 42.9,44.4,44.8,45.2,45.7,46.5,47.0,47.4,47.8,48.3,48.7,49.1,49.6,50.0,50.4,50.9,51.3,52.7,53.0],
  [12.4, 43.4,44.6,45.0,45.5,45.9,46.3,46.8,47.2,47.6,48.5,48.9,49.4,49.8,50.2,50.7,51.1,52.2],
  [11.6, 41.2,44.2,45.2,45.7,46.1,46.5,47.0,47.4,47.8,48.3,48.7,49.1,49.6,50.0,50.4,50.9,51.7],
  [10.8, 45.3,46.0,46.4,46.9,47.3,47.8,48.2,48.8,49.2,49.7,50.1,50.6,51.0,51.7],
  [10.1, 45.1,46.1,46.9,47.4,47.8,48.3,48.8,49.4,50.0,50.7,51.2,52.0]
];

// First simulation, extra points packed between the rows of the dense cluster
const firstCoreInner = [
  [33.6, 41.3,42.0,42.9,43.7,44.6,45.5,46.4,47.3],
  [32.0, 41.4,42.2,43.0,43.9,44.7,45.6,46.4,47.2],
  [31.2, 42.2,42.9,43.6,44.4,45.2,45.9,46.5,47.2],
  [30.4, 41.2,42.0,42.8,43.5,44.4,45.2,46.1,46.9,47.7],
  [29.6, 41.7,42.4,43.1,43.8,45.4,46.1,46.8,47.6,48.3],
  [28.8, 41.3,42.1,42.9,43.7,45.4,46.2,47.0,47.8,48.6],
  [28.0, 42.2,42.7,43.3,44.2,44.8,45.6,46.4,47.0,47.7,48.6,49.2,49.9],
  [27.2, 41.6,42.4,43.2,44.0,44.9,45.7,46.5,47.3,48.1,48.9,49.8],
  [26.4, 42.0,42.9,43.8,44.6,45.4,46.0,46.8,47.6,48.5,49.3,50.3],
  [25.6, 41.9,42.7,43.5,44.3,45.1,46.0,46.8,47.6,48.4,49.2,50.0,50.8],
  [24.8, 42.4,43.3,44.0,44.8,45.6,46.2,47.5,48.4,49.2,50.0,50.6],
  [24.0, 42.5,43.4,44.2,45.0,45.8,48.0,48.8,49.6,50.4,51.0],
  [23.2, 42.0,42.9,43.7,44.3,45.1,45.9,47.4,48.2,49.0,49.9,50.8],
  [22.4, 42.1,43.0,43.8,44.6,45.4,46.2,47.1,47.9,48.7,49.5,50.3,51.1],
  [21.6, 42.3,43.8,44.6,45.4,46.3,47.1,47.9,48.6,49.4,50.3,51.1],
  [20.8, 42.3,44.2,45.0,45.8,46.6,47.4,48.2,49.0,49.8,50.6,51.3],
  [20.0, 43.5,44.3,45.1,45.9,46.8,47.4,48.2,49.0,49.6,50.4,51.3],
  [19.2, 43.0,43.9,44.7,45.5,46.3,47.1,47.9,48.7,49.5,50.3,51.1],
  [18.4, 43.6,44.4,45.3,46.1,46.9,47.7,48.6,49.5,50.2,51.0],
  [17.6, 43.7,44.5,45.3,46.1,46.9,47.7,48.5,49.9,50.7,51.5],
  [16.8, 44.2,44.9,45.6,46.4,47.3,48.1,50.2,50.9],
  [16.0, 43.8,44.7,45.5,46.3,47.1,47.9,48.7,49.5,50.3,51.1],
  [15.2, 44.6,45.3,46.2,47.0,47.8,48.7,49.5,50.3,51.0],
  [14.4, 44.2,45.0,45.8,46.6,47.4,48.2,49.0,49.8,50.6,51.4],
  [13.6, 44.7,45.5,46.9,47.7,48.5,49.4,50.2,51.1],
  [12.8, 44.8,45.6,46.4,47.2,48.0,48.8,49.6,50.4,51.2],
  [12.0, 45.3,46.0,46.9,47.8,48.7,49.5,50.4,51.2],
  [11.2, 45.5,46.3,47.1,47.9,48.7,49.5,50.3,51.1]
];

// First simulation, edges and isolated points: x, y pairs
const firstEdges = [
  34.5,27.2, 35.3,28.1, 35.5,27.6, 36.1,27.6, 34.1,24.1, 36.8,22.3, 37.6,24.2, 38.0,23.3, 37.2,25.7,
  38.6,19.0, 38.0,17.3, 38.3,30.5, 38.0,31.6, 38.8,32.3, 37.7,29.0, 38.6,27.8, 39.3,26.1, 40.2,26.5,
  40.7,25.5, 38.2,26.8, 36.8,29.5, 37.3,31.0, 39.0,33.4, 40.3,27.3, 39.8,30.2, 40.5,33.0,
  25.1,36.5, 27.5,36.4, 26.1,29.0, 29.5,31.1, 32.2,32.3, 34.5,12.9, 41.2,11.2, 45.8,8.5,
  46.9,57.3, 47.8,54.4, 47.7,53.3, 47.4,52.65, 47.8,50.6, 46.56,48.4, 48.6,48.1, 47.4,45.2, 47.8,45.7,
  48.75,40.3, 48.6,38.5, 49.56,39.4, 51.4,33.2, 52.7,19.3, 51.2,10.3,
  47.0,0, 49.0,0.5, 49.7,0.9, 51.2,0.9
];

function fromPairs(list) {
  const pts = [];
  for (let i = 0; i < list.length; i += 2) pts.push({ x: list[i], y: list[i + 1] });
  return pts;
}

function fromRows(rows) {
  const pts = [];
  rows.forEach(row => {
    for (let i = 1; i < row.length; i++) pts.push({ x: row[i], y: row[0] });
  });
  return pts;
}

const blue = '#0072BD';
const orange = '#F55A0C';
const axisGray = '#4d4d4d';
const textDark = '#262626';
const fontFamily = '"Liberation Sans", Arial, Helvetica, sans-serif';
const dotRadius = 10;

const firstPoints = fromPairs(firstUpper).concat(
  fromRows(firstCoreRows), fromRows(firstCoreInner), fromPairs(firstEdges));
const secondPoints = fromRows(secondBandRows).concat(
  fromRows(secondBandInner), fromRows(secondBandFill), fromRows(secondStreakRows), fromPairs(secondScatter));

// MATLAB-style tick marks pointing into the plot
const innerTicks = {
  id: 'innerTicks',
  beforeDatasetsDraw(chart) {
    const { ctx, chartArea, scales: { x, y } } = chart;
    ctx.save();
    ctx.strokeStyle = axisGray;
    ctx.lineWidth = 3;
    ctx.beginPath();
    xTicks.forEach(v => {
      const px = Math.round(x.getPixelForValue(v)) + 0.5;
      ctx.moveTo(px, chartArea.bottom);
      ctx.lineTo(px, chartArea.bottom - 34);
    });
    yTicks.forEach(v => {
      const py = Math.round(y.getPixelForValue(v)) + 0.5;
      ctx.moveTo(chartArea.left, py);
      ctx.lineTo(chartArea.left + 34, py);
    });
    ctx.stroke();
    ctx.restore();
  }
};

// Text next to the circled point
const noteText = {
  id: 'noteText',
  afterDatasetsDraw(chart) {
    const { ctx, scales: { x, y } } = chart;
    ctx.save();
    ctx.fillStyle = textDark;
    ctx.font = '63px ' + fontFamily;
    ctx.textAlign = 'left';
    ctx.textBaseline = 'alphabetic';
    const left = x.getPixelForValue(20.1);
    const base = y.getPixelForValue(19.4);
    noteLines.forEach((t, i) => ctx.fillText(t, left, base + i * 80));
    ctx.font = '16px ' + fontFamily;
    ctx.fillStyle = '#7a7a7a';
    ctx.textAlign = 'center';
    ctx.textBaseline = 'middle';
    ctx.fillText('L/s', x.getPixelForValue(28.4), y.getPixelForValue(45.5));
    ctx.restore();
  }
};

// Boxed legend in the upper right corner of the plot
const boxLegend = {
  id: 'boxLegend',
  afterDraw(chart) {
    const { ctx, chartArea } = chart;
    const left = chartArea.right - 702;
    const top = chartArea.top + 47;
    const w = 656, h = 160;
    ctx.save();
    ctx.fillStyle = '#ffffff';
    ctx.fillRect(left, top, w, h);
    ctx.strokeStyle = '#5c5c5c';
    ctx.lineWidth = 3;
    ctx.strokeRect(left + 0.5, top + 0.5, w, h);
    const items = [
      { label: seriesLabels[0], color: blue, dotY: top + 44, textY: top + 66 },
      { label: seriesLabels[1], color: orange, dotY: top + 117, textY: top + 139 }
    ];
    ctx.font = '52px ' + fontFamily;
    ctx.textAlign = 'left';
    ctx.textBaseline = 'alphabetic';
    items.forEach(it => {
      ctx.fillStyle = it.color;
      ctx.beginPath();
      ctx.arc(left + 104, it.dotY, 15, 0, Math.PI * 2);
      ctx.fill();
      ctx.fillStyle = textDark;
      ctx.fillText(it.label, left + 207, it.textY);
    });
    ctx.restore();
  }
};

new Chart(document.getElementById('pressureChart'), {
  type: 'scatter',
  data: {
    datasets: [
      {
        label: 'threshold',
        type: 'line',
        data: [{ x: 0, y: thresholdPressure }, { x: 60, y: thresholdPressure }],
        showLine: true,
        fill: false,
        borderColor: '#1f1f1f',
        borderWidth: 5,
        borderDash: [52, 53],
        pointRadius: 0,
        order: 0
      },
      {
        label: 'marker',
        data: [{ x: markedPoint[0], y: markedPoint[1] }],
        pointRadius: 41,
        pointBackgroundColor: 'rgba(0,0,0,0)',
        pointBorderColor: '#111111',
        pointBorderWidth: 3.5,
        order: 0
      },
      {
        label: seriesLabels[0],
        data: firstPoints,
        pointRadius: dotRadius,
        pointBackgroundColor: blue,
        pointBorderWidth: 0,
        clip: false,
        order: 2
      },
      {
        label: seriesLabels[1],
        data: secondPoints,
        pointRadius: dotRadius,
        pointBackgroundColor: orange,
        pointBorderWidth: 0,
        clip: false,
        order: 1
      }
    ]
  },
  options: {
    responsive: false,
    animation: false,
    devicePixelRatio: 1,
    events: [],
    layout: { padding: { top: 47, right: 62, bottom: 0, left: 0 } },
    plugins: {
      legend: { display: false },
      tooltip: { enabled: false }
    },
    scales: {
      x: {
        type: 'linear',
        position: 'bottom',
        min: 0,
        max: 60,
        afterBuildTicks: s => { s.ticks = xTicks.map(v => ({ value: v })); },
        afterFit: s => { s.height = 217; s.paddingLeft = 0; s.paddingRight = 0; },
        grid: { display: false, drawTicks: false },
        border: { display: true, color: axisGray, width: 3 },
        ticks: {
          autoSkip: false,
          maxRotation: 0,
          padding: 31,
          color: textDark,
          font: { family: fontFamily, size: 58 }
        },
        title: {
          display: true,
          text: 'Injected Flow (L/s)',
          color: textDark,
          font: { family: fontFamily, size: 61 },
          padding: { top: 0, bottom: 33 }
        }
      },
      y: {
        type: 'linear',
        position: 'left',
        min: 0,
        max: 100,
        afterBuildTicks: s => { s.ticks = yTicks.map(v => ({ value: v })); },
        afterFit: s => { s.width = 236; s.paddingTop = 0; s.paddingBottom = 0; },
        grid: { display: false, drawTicks: false },
        border: { display: true, color: axisGray, width: 3 },
        ticks: {
          autoSkip: false,
          padding: 27,
          color: textDark,
          font: { family: fontFamily, size: 58 }
        },
        title: {
          display: true,
          text: 'Minimum Pressure (m.w.c.)',
          color: textDark,
          font: { family: fontFamily, size: 64 },
          padding: { top: 16, bottom: 0 }
        }
      }
    }
  },
  plugins: [innerTicks, noteText, boxLegend]
});
</script>
</body>
</html>
